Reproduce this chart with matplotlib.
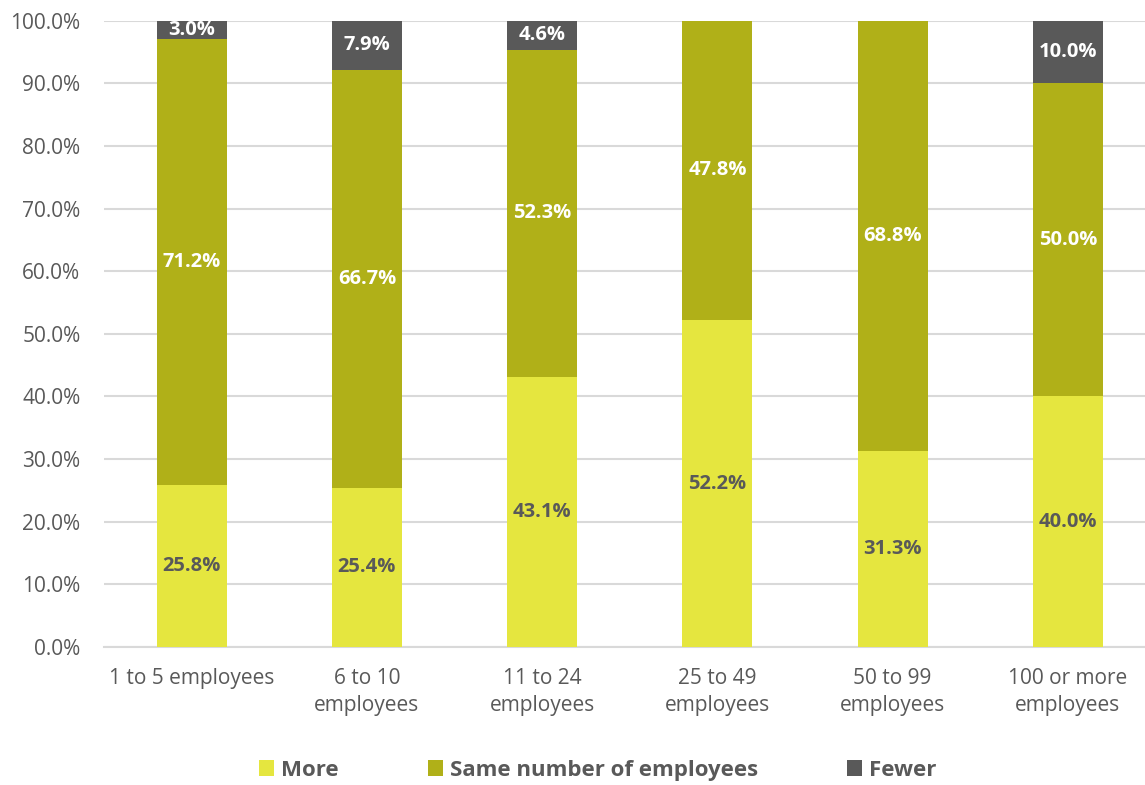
import matplotlib.pyplot as plt
from matplotlib.patches import Patch
import numpy as np

plt.rcParams['font.family'] = ['Open Sans', 'DejaVu Sans']

categories = ["1 to 5 employees", "6 to 10\nemployees", "11 to 24\nemployees",
              "25 to 49\nemployees", "50 to 99\nemployees", "100 or more\nemployees"]
more = [25.8, 25.4, 43.1, 52.2, 31.3, 40.0]
same = [71.2, 66.7, 52.3, 47.8, 68.8, 50.0]
fewer = [3.0, 7.9, 4.6, 0.0, 0.0, 10.0]
series_names = ["More", "Same number of employees", "Fewer"]
yticks = [0, 10, 20, 30, 40, 50, 60, 70, 80, 90, 100]

colors = ["#E5E63F", "#B0B018", "#595959"]
label_colors = ["#595959", "white", "white"]
text_gray = "#595959"
grid_gray = "#D9D9D9"

fig = plt.figure(figsize=(11.45, 7.85), dpi=100)
ax = fig.add_axes([104 / 1145, 1 - 647 / 785, 1 - 104 / 1145, (647 - 20.7) / 785])

x = np.arange(len(categories))
bottom = np.zeros(len(categories))
for vals, col, lcol in zip([more, same, fewer], colors, label_colors):
    vals = np.array(vals)
    ax.bar(x, vals, width=0.4, bottom=bottom, color=col, zorder=3)
    for xi, b, v in zip(x, bottom, vals):
        if v > 0:
            ax.text(xi, b + v / 2, f"{v:.1f}%", ha="center", va="center",
                    color=lcol, fontsize=14.5, fontweight="bold", zorder=4)
    bottom = bottom + vals

ax.set_xlim(-0.5, 5.44)
ax.set_ylim(0, 100)
ax.set_yticks(yticks)
ax.set_yticklabels([f"{t:.1f}%" for t in yticks])
ax.set_xticks(x)
ax.set_xticklabels(categories, linespacing=1.4)
ax.tick_params(axis="both", length=0, labelsize=15, colors=text_gray)
ax.tick_params(axis="y", pad=17)
ax.tick_params(axis="x", pad=15)
ax.grid(axis="y", color=grid_gray, linewidth=1.5, zorder=0)
for s in ["top", "right", "left"]:
    ax.spines[s].set_visible(False)
ax.spines["bottom"].set_color(grid_gray)
ax.spines["bottom"].set_linewidth(1.5)

handles = [Patch(facecolor=c, edgecolor="none") for c in colors]
leg = fig.legend(handles, series_names, loc="center", bbox_to_anchor=(0.522, 0.019),
                 ncol=3, frameon=False, handlelength=0.7, handleheight=0.7,
                 handletextpad=0.3, columnspacing=4.0,
                 prop={"size": 16, "weight": "bold"})
for t in leg.get_texts():
    t.set_color(text_gray)

fig.savefig("out.png", dpi=100)
